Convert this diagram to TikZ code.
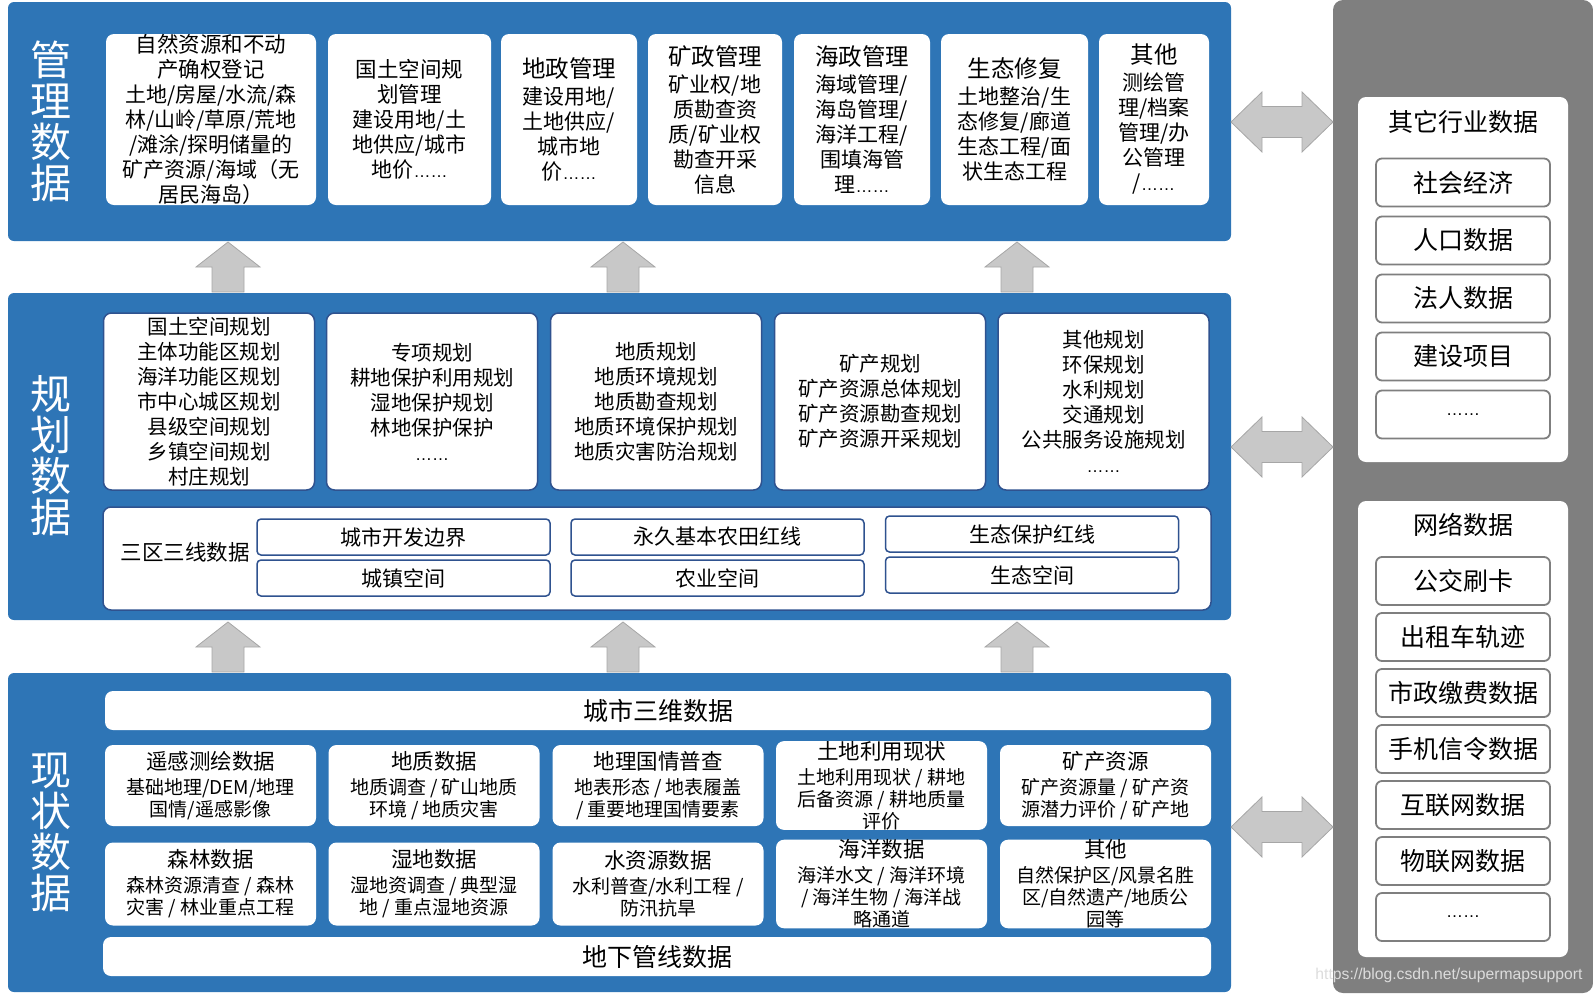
\documentclass[tikz,border=0pt]{standalone}
\usepackage{fontspec}
\setmainfont{Noto Sans CJK SC}
\newfontfamily\latf{Liberation Sans}
\definecolor{blu}{HTML}{2E75B6}
\definecolor{dblu}{HTML}{2F528F}
\definecolor{pan}{HTML}{7F7F7F}
\definecolor{arrf}{HTML}{C8C8C8}
\definecolor{arrd}{HTML}{A6A6A6}
\definecolor{wmk}{HTML}{DCDCDC}
\newcommand{\fsz}[2]{\fontsize{#1}{#2}\selectfont}
\newcommand{\elp}{{\latf\fsz{17}{25}……}}
\newcommand{\hdl}[1]{{\fsz{23.5}{27}#1}}
\newcommand{\rowhd}[1]{{\fsz{21.5}{25}#1}}
% block arrows, tip given, y grows downwards
\newcommand{\uparr}[2]{%
  \draw[arw] (#1,#2) -- ++(32,25) -- ++(-16,0) -- ++(0,25) -- ++(-32,0)
    -- ++(0,-25) -- ++(-16,0) -- cycle;}
\newcommand{\dblarr}[1]{%
  \draw[arw] (1231,#1) -- ++(31,-30) -- ++(0,14.5) -- ++(40,0) -- ++(0,-14.5)
    -- ++(31,30) -- ++(-31,30) -- ++(0,-14.5) -- ++(-40,0) -- ++(0,14.5) -- cycle;}

\begin{document}
\begin{tikzpicture}[x=1pt,y=-1pt,font=\fsz{21}{25},
  blk/.style={fill=blu,rounded corners=6pt},
  wb/.style={fill=white,rounded corners=8pt,align=center,inner sep=0pt},
  pb/.style={wb,draw=dblu,line width=1.5pt,minimum width=211pt,minimum height=177pt,font=\fsz{20.5}{25}},
  rb/.style={wb,minimum width=211pt,font=\fsz{19}{22}},
  zb/.style={fill=white,draw=dblu,line width=1.5pt,rounded corners=4pt,
    minimum width=293pt,minimum height=36pt,inner sep=0pt},
  gb/.style={fill=white,draw=pan,line width=1.8pt,rounded corners=6pt,
    minimum width=174pt,minimum height=48pt,inner sep=0pt,font=\fsz{25}{30}},
  vlab/.style={text=white,align=center,font=\fsz{41}{41}},
  arw/.style={fill=arrf,draw=arrd,line width=0.8pt}]
\useasboundingbox (0,0) rectangle (1593,994);

% right-hand grey column
\fill[pan,rounded corners=10pt] (1333,0) rectangle (1593,993);
\node[wb,minimum width=210pt,minimum height=365pt] (oth) at (1463,279.5) {};
\node[font=\fsz{25}{30}] (othT) at (1463,122) {其它行业数据};
\foreach \t [count=\i] in {社会经济,人口数据,法人数据,建设项目,\elp}
  \node[gb] (o\i) at (1463,{182.5+58*(\i-1)}) {\t};
\node[wb,minimum width=210pt,minimum height=456pt] (net) at (1463,729) {};
\node[font=\fsz{25}{30}] (netT) at (1463,525) {网络数据};
\foreach \t [count=\i] in {公交刷卡,出租车轨迹,市政缴费数据,手机信令数据,互联网数据,物联网数据,\elp}
  \node[gb] (n\i) at (1463,{581+56*(\i-1)}) {\t};
\node[text=wmk,font=\latf\fsz{15.7}{18}] (wm) at (1449,975) {https://blog.csdn.net/supermapsupport};

% management layer
\fill[blk] (8,2) rectangle (1231,241);
\node[vlab] (glab) at (51,121) {管\\理\\数\\据};
\begin{scope}[every node/.append style={wb,minimum height=171pt}]
\node[minimum width=210pt] (g1) at (211,119.5)
  {\rowhd{自然资源和不动}\\\rowhd{产确权登记}\\土地/房屋/水流/森\\林/山岭/草原/荒地\\/滩涂/探明储量的\\矿产资源/海域（无\\居民海岛）};
\node[minimum width=163pt] (g2) at (409.5,119.5)
  {\rowhd{国土空间规}\\\rowhd{划管理}\\建设用地/土\\地供应/城市\\地价\elp};
\node[minimum width=136pt] (g3) at (569,119.5)
  {\hdl{地政管理}\\[2pt]建设用地/\\土地供应/\\城市地\\价\elp};
\node[minimum width=134pt] (g4) at (715,119.5)
  {\hdl{矿政管理}\\[2pt]矿业权/地\\质勘查资\\质/矿业权\\勘查开采\\信息};
\node[minimum width=136pt] (g5) at (862,119.5)
  {\hdl{海政管理}\\[2pt]海域管理/\\海岛管理/\\海洋工程/\\围填海管\\理\elp};
\node[minimum width=147pt] (g6) at (1014.5,119.5)
  {\hdl{生态修复}\\[2pt]土地整治/生\\态修复/廊道\\生态工程/面\\状生态工程};
\node[minimum width=110pt] (g7) at (1154,119.5)
  {\hdl{其他}\\[2pt]测绘管\\理/档案\\管理/办\\公管理\\/\elp};
\end{scope}

% planning layer
\fill[blk] (8,293) rectangle (1231,620);
\node[vlab] (plab) at (51,456) {规\\划\\数\\据};
\node[pb] (p1) at (209,401.5)
  {国土空间规划\\主体功能区规划\\海洋功能区规划\\市中心城区规划\\县级空间规划\\乡镇空间规划\\村庄规划};
\node[pb] (p2) at (432,401.5) {专项规划\\耕地保护利用规划\\湿地保护规划\\林地保护保护\\\elp};
\node[pb] (p3) at (656,401.5) {地质规划\\地质环境规划\\地质勘查规划\\地质环境保护规划\\地质灾害防治规划};
\node[pb] (p4) at (880,401.5) {矿产规划\\矿产资源总体规划\\矿产资源勘查规划\\矿产资源开采规划};
\node[pb] (p5) at (1103.5,401.5) {其他规划\\环保规划\\水利规划\\交通规划\\公共服务设施规划\\\elp};
\node[wb,draw=dblu,line width=1.5pt,minimum width=1108pt,minimum height=103pt] (sq) at (657,558.5) {};
\node[font=\fsz{21.5}{25}] (sqT) at (185,552) {三区三线数据};
\foreach \cx/\cy/\ta/\tb/\k in {403.5/537/城市开发边界/城镇空间/1,
    717.5/537/永久基本农田红线/农业空间/2, 1032/534/生态保护红线/生态空间/3}{
  \node[zb] (zl\k) at (\cx,\cy) {\ta};
  \node[zb] (zs\k) at ({\cx},{\cy+41}) {\tb};
}

% current-state layer
\fill[blk] (8,673) rectangle (1231,992);
\node[vlab] (xlab) at (51,832) {现\\状\\数\\据};
\node[wb,minimum width=1106pt,minimum height=39pt,font=\fsz{25}{30}] (s3d) at (658,710.5) {城市三维数据};
\begin{scope}[every node/.append style={rb,minimum height=81pt}]
\node (x1) at (210.5,785.5) {\rowhd{遥感测绘数据}\\[3pt]基础地理/DEM/地理\\国情/遥感影像};
\node (x2) at (434,785.5) {\rowhd{地质数据}\\[3pt]地质调查 / 矿山地质\\环境 / 地质灾害};
\node (x3) at (658,785.5) {\rowhd{地理国情普查}\\[3pt]地表形态 / 地表履盖\\/ 重要地理国情要素};
\node (x4) at (881.5,785.5) {\rowhd{土地利用现状}\\[3pt]土地利用现状 / 耕地\\后备资源 / 耕地质量\\评价};
\node (x5) at (1105.5,785.5) {\rowhd{矿产资源}\\[3pt]矿产资源量 / 矿产资\\源潜力评价 / 矿产地};
\end{scope}
\begin{scope}[every node/.append style={rb,minimum height=83pt}]
\node (x6) at (210.5,884) {\rowhd{森林数据}\\[3pt]森林资源清查 / 森林\\灾害 / 林业重点工程};
\node (x7) at (434,884) {\rowhd{湿地数据}\\[3pt]湿地资调查 / 典型湿\\地 / 重点湿地资源};
\node (x8) at (658,884) {\rowhd{水资源数据}\\[3pt]水利普查/水利工程 /\\防汛抗旱};
\node (x9) at (881.5,884) {\rowhd{海洋数据}\\[3pt]海洋水文 / 海洋环境\\/ 海洋生物 / 海洋战\\略通道};
\node (x10) at (1105.5,884) {\rowhd{其他}\\[3pt]自然保护区/风景名胜\\区/自然遗产/地质公\\园等};
\end{scope}
\node[wb,minimum width=1108pt,minimum height=39pt,font=\fsz{25}{30}] (pipe) at (657,956.5) {地下管线数据};

% arrows between the layers and to the grey column
\foreach \cx in {228,623,1017}{\uparr{\cx}{242}\uparr{\cx}{622}}
\foreach \cy in {122,447,827}{\dblarr{\cy}}
\end{tikzpicture}
\end{document}
